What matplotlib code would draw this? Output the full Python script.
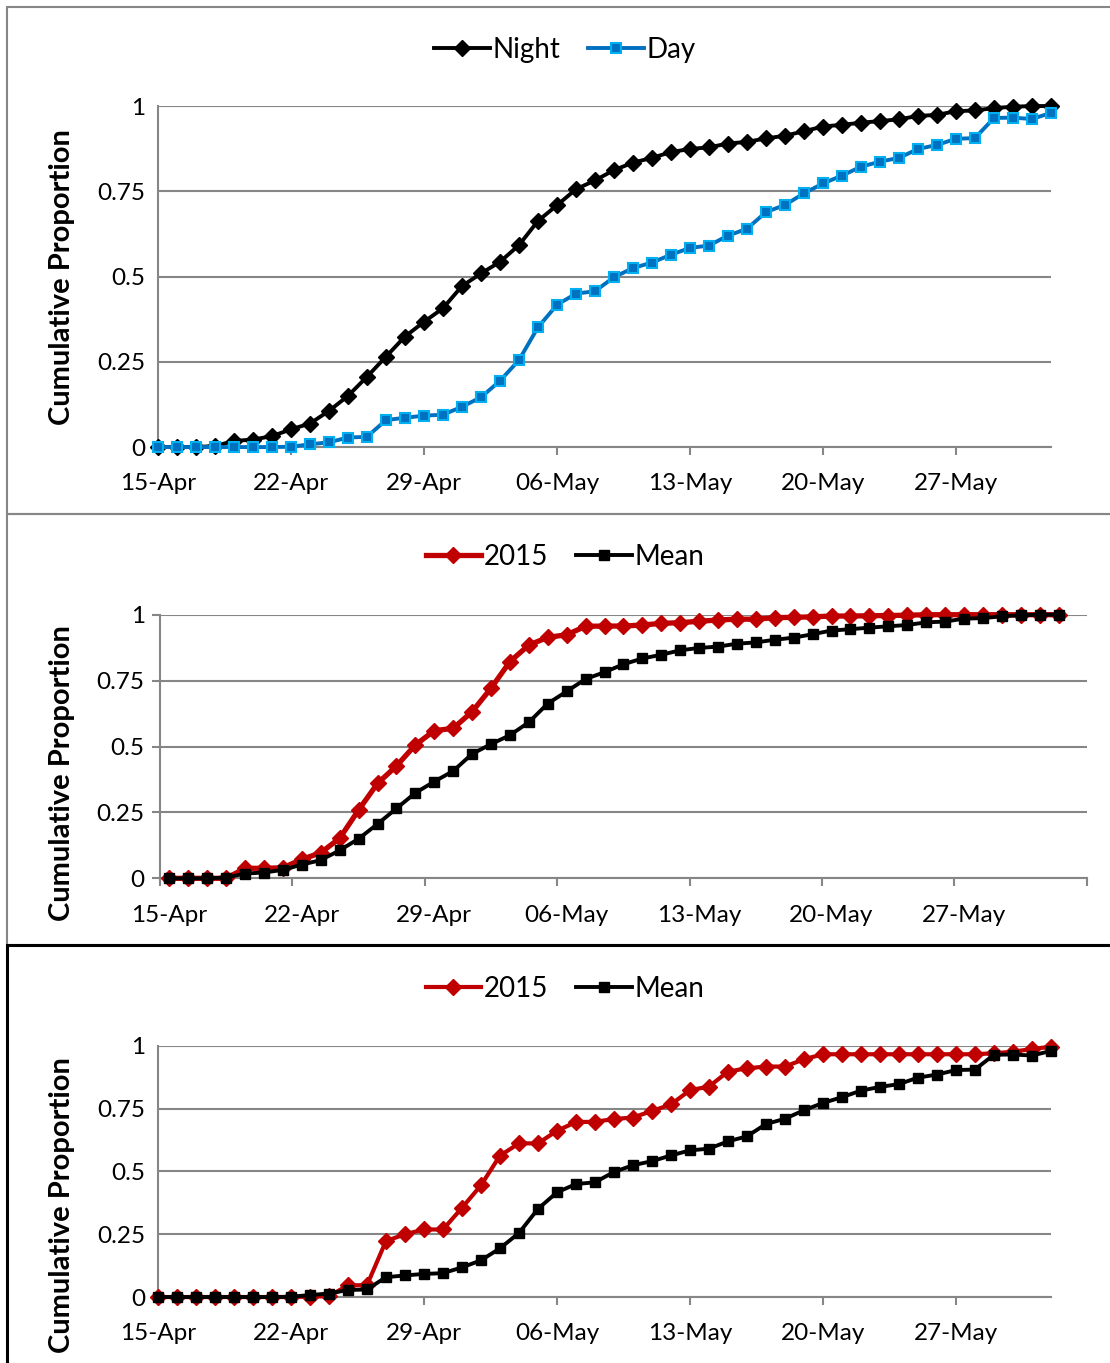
import matplotlib
matplotlib.use("Agg")
import matplotlib.pyplot as plt
import numpy as np
from matplotlib.patches import Rectangle

plt.rcParams['font.family'] = ['Lato', 'DejaVu Sans']

# cumulative proportion by day, 15-Apr .. 1-Jun
night = [0, 0, 0, 0.003, 0.018, 0.022, 0.032, 0.052, 0.069, 0.106, 0.150, 0.206,
         0.265, 0.324, 0.367, 0.407, 0.472, 0.509, 0.543, 0.592, 0.663, 0.709, 0.756, 0.782,
         0.812, 0.834, 0.848, 0.865, 0.874, 0.879, 0.890, 0.895, 0.905, 0.913, 0.926, 0.940,
         0.945, 0.951, 0.956, 0.961, 0.971, 0.974, 0.985, 0.987, 0.994, 0.998, 1.0, 1.0]
day = [0, 0, 0, 0, 0, 0, 0, 0.001, 0.008, 0.014, 0.028, 0.030,
       0.079, 0.086, 0.092, 0.095, 0.118, 0.146, 0.194, 0.255, 0.351, 0.417, 0.450, 0.457,
       0.498, 0.525, 0.541, 0.564, 0.584, 0.591, 0.620, 0.640, 0.689, 0.710, 0.744, 0.773,
       0.796, 0.822, 0.837, 0.848, 0.874, 0.886, 0.904, 0.906, 0.965, 0.966, 0.962, 0.980]
night_2015 = [0, 0, 0, 0, 0.038, 0.038, 0.040, 0.072, 0.097, 0.152, 0.259, 0.360,
              0.426, 0.506, 0.560, 0.569, 0.632, 0.721, 0.822, 0.885, 0.914, 0.924, 0.956, 0.957,
              0.957, 0.961, 0.967, 0.970, 0.975, 0.980, 0.983, 0.983, 0.989, 0.990, 0.992, 0.995,
              0.995, 0.996, 0.997, 0.998, 1.0, 1.0, 1.0, 1.0, 1.0, 1.0, 1.0, 1.0]
day_2015 = [0, 0, 0, 0, 0, 0, 0, 0, 0.002, 0.003, 0.047, 0.047,
            0.223, 0.250, 0.269, 0.269, 0.355, 0.445, 0.563, 0.612, 0.612, 0.662, 0.697, 0.698,
            0.709, 0.715, 0.741, 0.767, 0.824, 0.838, 0.898, 0.911, 0.918, 0.918, 0.947, 0.967,
            0.967, 0.967, 0.967, 0.967, 0.967, 0.967, 0.967, 0.967, 0.971, 0.977, 0.988, 0.997]

date_labels = ["15-Apr", "22-Apr", "29-Apr", "06-May", "13-May", "20-May", "27-May"]
y_ticks = [0, 0.25, 0.5, 0.75, 1]
y_labels = ["0", "0.25", "0.5", "0.75", "1"]

x = np.arange(len(night))
label_pos = np.arange(len(date_labels)) * 7
grid_col = "#868686"

fig = plt.figure(figsize=(11.10, 13.63), dpi=100)


def style_axes(ax, between=False):
    ax.set_ylim(0, 1)
    ax.set_yticks(y_ticks)
    ax.set_yticklabels(y_labels)
    ax.grid(axis="y", color=grid_col, linewidth=1.5)
    ax.set_axisbelow(True)
    for s in ["top", "right"]:
        ax.spines[s].set_visible(False)
    for s in ["left", "bottom"]:
        ax.spines[s].set_color(grid_col)
        ax.spines[s].set_linewidth(1.5)
    ax.set_xticks(label_pos)
    ax.set_xticklabels(date_labels)
    ax.tick_params(axis="both", labelsize=17.5, colors=grid_col, labelcolor="black")
    if between:
        # labels at category centres, tick marks on category boundaries
        ax.set_xlim(-0.5, len(x) + 0.5)
        ax.set_xticks(np.arange(0, len(x) + 2, 7) - 0.5, minor=True)
        ax.tick_params(axis="x", which="major", length=0, pad=19)
        ax.tick_params(axis="x", which="minor", length=6, width=1.5, color=grid_col)
        ax.tick_params(axis="y", length=6, width=1.5, pad=5)
    else:
        ax.set_xlim(0, len(x) - 1)
        ax.tick_params(axis="x", length=6, width=1.5, pad=12.5)
        ax.tick_params(axis="y", length=0, pad=9)


def add_legend(ax, yc):
    ax.legend(loc="center", bbox_to_anchor=(0.509, yc), bbox_transform=fig.transFigure,
              ncol=2, frameon=False, fontsize=20, handlelength=2.0, handletextpad=0.1,
              columnspacing=1.0)


# top panel: night vs day
ax1 = fig.add_axes([0.1423, 0.6720, 0.8045, 0.2502])
ax1.plot(x, night, color="black", lw=2.8, marker="D", ms=8.5, label="Night", clip_on=False, zorder=3)
ax1.plot(x, day, color="#0070C0", lw=2.8, marker="s", ms=7, mfc="#0070C0", mec="#00B0F0",
         mew=1.5, label="Day", clip_on=False, zorder=4)
style_axes(ax1)
add_legend(ax1, 0.9633)

# middle panel: 2015 vs mean (night)
ax2 = fig.add_axes([0.1441, 0.3556, 0.8351, 0.1934])
ax2.plot(x, night_2015, color="#C00000", lw=3.8, marker="D", ms=8, label="2015", clip_on=False, zorder=3)
ax2.plot(x, night, color="black", lw=2.8, marker="s", ms=7.5, label="Mean", clip_on=False, zorder=4)
style_axes(ax2, between=True)
add_legend(ax2, 0.5913)

# bottom panel: 2015 vs mean (day)
ax3 = fig.add_axes([0.1423, 0.0484, 0.8045, 0.1842])
ax3.plot(x, day_2015, color="#C00000", lw=3.0, marker="D", ms=8.5, label="2015", clip_on=False, zorder=3)
ax3.plot(x, day, color="black", lw=2.8, marker="s", ms=7.5, label="Mean", clip_on=False, zorder=4)
style_axes(ax3)
add_legend(ax3, 0.2744)

# y axis titles
for yc in [0.7968, 0.4329, 0.1159]:
    fig.text(0.0559, yc, "Cumulative Proportion", rotation=90, ha="center", va="center",
             fontsize=21, fontweight="bold")

# panel frames
fig.add_artist(Rectangle((0.0063, 0.6229), 1.0, 0.372, transform=fig.transFigure,
                         fill=False, edgecolor=grid_col, linewidth=1.5))
fig.add_artist(Rectangle((0.0063, 0.3067), 1.0, 0.3162, transform=fig.transFigure,
                         fill=False, edgecolor=grid_col, linewidth=1.5))
fig.add_artist(Rectangle((0.0063, -0.01), 1.0, 0.3167, transform=fig.transFigure,
                         fill=False, edgecolor="black", linewidth=2.2))

fig.savefig("out.png", dpi=100)
